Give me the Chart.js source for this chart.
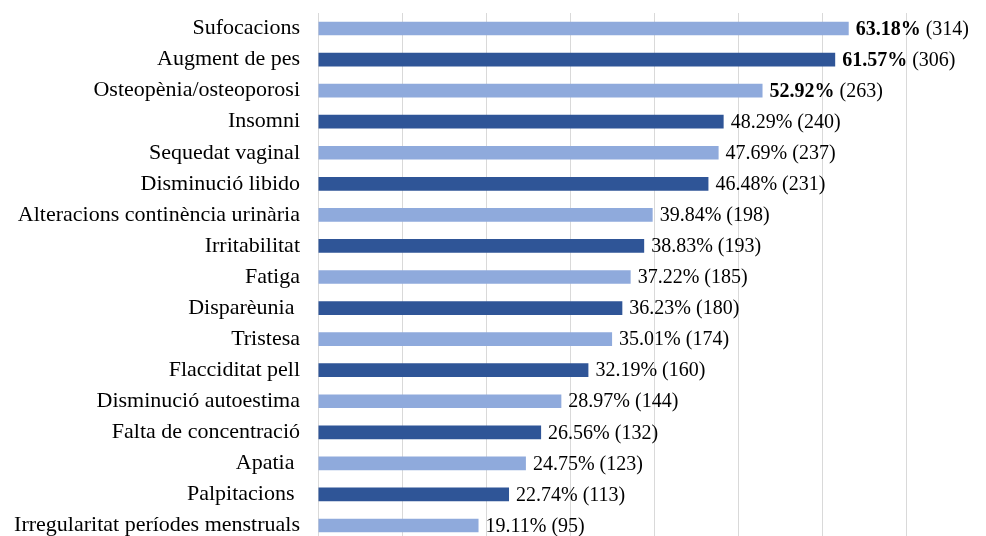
<!DOCTYPE html>
<html>
<head>
<meta charset="utf-8">
<script src="https://cdn.jsdelivr.net/npm/chart.js@4"></script>
<style>
  html, body { margin: 0; padding: 0; background: #fff; overflow: hidden; }
  #wrap { width: 990px; height: 541px; }
</style>
</head>
<body>
<div id="wrap"><canvas id="symptomChart"></canvas></div>
<script>
const symptoms = [
  "Sufocacions",
  "Augment de pes",
  "Osteopènia/osteoporosi",
  "Insomni",
  "Sequedat vaginal",
  "Disminució libido",
  "Alteracions continència urinària",
  "Irritabilitat",
  "Fatiga",
  "Disparèunia ",
  "Tristesa",
  "Flacciditat pell",
  "Disminució autoestima",
  "Falta de concentració",
  "Apatia ",
  "Palpitacions ",
  "Irregularitat períodes menstruals",
];
const percentages = [63.18, 61.57, 52.92, 48.29, 47.69, 46.48, 39.84, 38.83, 37.22, 36.23, 35.01, 32.19, 28.97, 26.56, 24.75, 22.74, 19.11];
const counts = [314, 306, 263, 240, 237, 231, 198, 193, 185, 180, 174, 160, 144, 132, 123, 113, 95];
const boldCount = 3; // the first three percentages are bold

const lightBlue = "#8FAADC";
const darkBlue = "#2F5597";

// draws "xx.xx% (n)" to the right of each bar
const valueLabels = {
  id: "valueLabels",
  afterDatasetsDraw(chart) {
    const ctx = chart.ctx;
    const meta = chart.getDatasetMeta(0);
    ctx.save();
    ctx.fillStyle = "#000";
    ctx.textBaseline = "middle";
    ctx.textAlign = "left";
    meta.data.forEach((bar, i) => {
      let x = bar.x + 7;
      const y = bar.y + 1;
      const pct = percentages[i].toFixed(2) + "%";
      ctx.font = (i < boldCount ? "bold " : "") + "20px 'Liberation Serif'";
      ctx.fillText(pct, x, y);
      x += ctx.measureText(pct).width;
      ctx.font = "20px 'Liberation Serif'";
      ctx.fillText(" (" + counts[i] + ")", x, y);
    });
    ctx.restore();
  },
};

const ctx = document.getElementById("symptomChart").getContext("2d");
const symptomChart = new Chart(ctx, {
  type: "bar",
  data: {
    labels: symptoms,
    datasets: [
      {
        data: percentages,
        backgroundColor: symptoms.map((s, i) => (i % 2 === 0 ? lightBlue : darkBlue)),
        barPercentage: 0.44,
        categoryPercentage: 1,
      },
    ],
  },
  options: {
    indexAxis: "y",
    responsive: true,
    maintainAspectRatio: false,
    animation: false,
    layout: { padding: { top: 13, right: 0, bottom: 0, left: 0 } },
    scales: {
      x: {
        min: 0,
        max: 80,
        afterFit: (scale) => {
          scale.height = 0;
          scale.paddingLeft = 0;
          scale.paddingRight = 0;
        },
        ticks: { display: false, stepSize: 10 },
        grid: { color: "#D9D9D9", lineWidth: 1, drawTicks: false },
        border: { display: false },
      },
      y: {
        afterFit: (scale) => {
          scale.width = 318;
          scale.paddingTop = 0;
          scale.paddingBottom = 0;
        },
        ticks: {
          color: "#000",
          padding: 18,
          font: { family: "'Liberation Serif'", size: 22 },
        },
        grid: { display: false, drawTicks: false },
        border: { display: true, color: "#D9D9D9", width: 1 },
      },
    },
    plugins: {
      legend: { display: false },
      tooltip: { enabled: false },
    },
  },
  plugins: [valueLabels],
});
</script>
</body>
</html>
